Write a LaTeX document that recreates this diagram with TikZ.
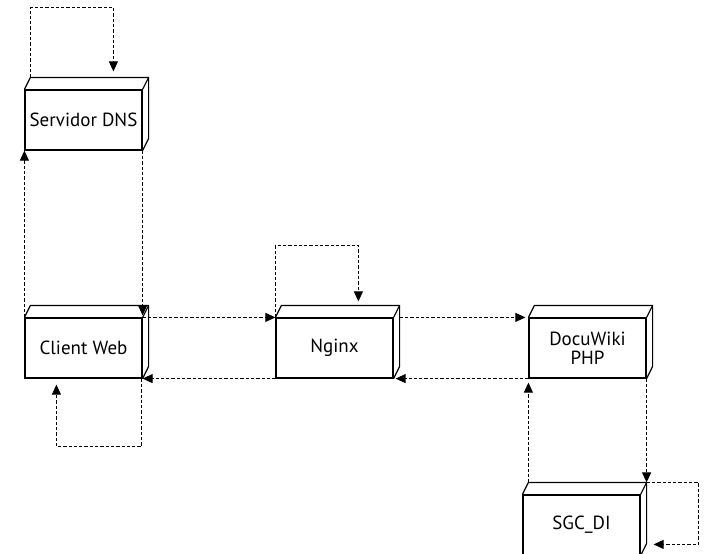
\documentclass[tikz,border=0pt]{standalone}
\usepackage{fontspec}
\setmainfont{PT Sans}
\usetikzlibrary{arrows.meta,calc}
\tikzset{
  box/.style={draw, line width=1.2pt, minimum width=117pt, minimum height=60pt,
    inner sep=0pt, font=\fontsize{19}{22}\selectfont, align=center, fill=white},
  face/.style={line width=1.2pt, line join=round},
  dl/.style={line width=0.9pt, dash pattern=on 3.3pt off 2pt},
  ar/.style={-{Triangle[length=10pt,width=9pt]}},
}
\newcommand\depthfaces[1]{%
  \draw[face] (#1.north west) -- ++(6,-12) -- ($(#1.north east)+(6,-12)$)
    -- ($(#1.south east)+(6,-12)$) -- (#1.south east);
  \draw[face] (#1.north east) -- ++(6,-12);}
\begin{document}
\begin{tikzpicture}[x=1pt,y=-1pt]
\path[use as bounding box, clip] (0,0) rectangle (704,554);
\fill[white] (0,0) rectangle (704,554);

\node[box] (dns)  at (83.5,120) {Servidor DNS};
\node[box] (web)  at (83.5,348) {Client Web};
\node[box] (ngx)  at (334.5,348) {Nginx};
\node[box] (doku) at (587.5,348) {DocuWiki\\[-3pt]PHP};
\node[box] (sgc)  at (581.5,525) {SGC\_DI};
\depthfaces{dns}
\depthfaces{web}
\depthfaces{ngx}
\depthfaces{doku}
\depthfaces{sgc}

% DNS self loop
\coordinate (dnstl) at ($(dns.north west)+(6,-12)$);
\coordinate (dnsin) at ($(dns.north west)+(89,-18)$);
\draw[dl,ar] (dnstl) -- ++(0,-70) -| (dnsin);
% web <-> dns
\draw[dl,ar] (web.north west) -- (dns.south west);
\draw[dl,ar] (dns.south east) -- ($(web.north east)+(0,-2)$);
% web <-> nginx
\draw[dl,ar] (web.north east) -- (ngx.north west);
\draw[dl,ar] (ngx.south west) -- (web.south east);
% web self loop
\coordinate (webin) at ($(web.south west)+(32,6)$);
\draw[dl,ar] ($(web.south east)+(-1,0)$) -- ++(0,68) -| (webin);
% nginx self loop
\coordinate (ngxin) at ($(ngx.north west)+(83,-16)$);
\draw[dl,ar] (ngx.north west) -- ++(0,-72) -| (ngxin);
% nginx <-> docuwiki
\draw[dl,ar] ($(ngx.north east)+(6,0)$) -- ($(doku.north west)+(-3,0)$);
\draw[dl,ar] (doku.south west) -- ($(ngx.south east)+(2,0)$);
% docuwiki <-> sgc
\coordinate (sgctl) at ($(sgc.north west)+(6,-12)$);
\coordinate (sgctr) at ($(sgc.north east)+(6,-12)$);
\draw[dl,ar] (doku.south east) -- (sgctr);
\draw[dl,ar] (sgctl) -- ($(doku.south west)+(0,4)$);
% sgc self loop
\coordinate (sgcin) at ($(sgc.north east)+(13,50)$);
\draw[dl,ar] (sgctr) -- ++(52,0) |- (sgcin);
\end{tikzpicture}
\end{document}
